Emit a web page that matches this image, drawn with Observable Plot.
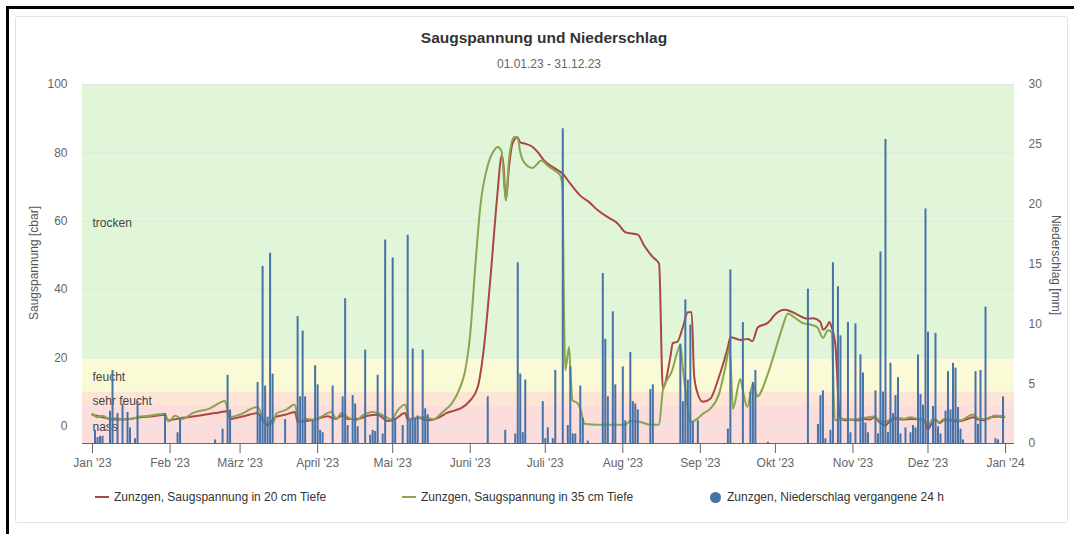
<!DOCTYPE html>
<html><head><meta charset="utf-8">
<script src="https://cdn.jsdelivr.net/npm/d3@7"></script>
<script src="https://cdn.jsdelivr.net/npm/@observablehq/plot@0.6"></script>
<style>
body{margin:0;background:#fff;font-family:"Liberation Sans",Arial,sans-serif;}
#wrap{position:relative;width:1074px;height:534px;overflow:hidden;background:#fff;}
.outer{position:absolute;left:6px;top:6px;width:1080px;height:540px;border-left:3px solid #000;border-top:3px solid #000;}
.card{position:absolute;left:15px;top:16px;width:1051px;height:505px;border:1px solid #e2e2e2;border-radius:3px;}
.title{position:absolute;left:0;width:1088px;top:28px;text-align:center;font-size:15.5px;font-weight:bold;color:#333;line-height:20px;}
.subtitle{position:absolute;left:0;width:1098px;top:57px;text-align:center;font-size:12px;color:#666;line-height:14px;}
#chart{position:absolute;left:0;top:70px;}
.ytitle{position:absolute;font-size:12px;color:#555;white-space:nowrap;line-height:14px;}
.ytitle.l{left:34px;top:263px;transform:translate(-50%,-50%) rotate(-90deg);}
.ytitle.r{left:1056px;top:265px;transform:translate(-50%,-50%) rotate(90deg);}
.leg{position:absolute;top:490px;font-size:12px;color:#333;line-height:14px;white-space:nowrap;}
.sym{position:absolute;}
</style></head><body>
<div id="wrap">
 <div class="outer"></div>
 <div class="card"></div>
 <div class="title">Saugspannung und Niederschlag</div>
 <div class="subtitle">01.01.23 - 31.12.23</div>
 <div id="chart"></div>
 <div class="ytitle l">Saugspannung [cbar]</div>
 <div class="ytitle r">Niederschlag [mm]</div>
 <div id="legend"></div>
</div>
<script>
// ---- data ----
const monthLabels = ["Jan","Feb","März","April","Mai","Juni","Juli","Aug","Sep","Okt","Nov","Dez"];
const leftTicks = [0, 20, 40, 60, 80, 100];
const rightTicks = [0, 5, 10, 15, 20, 25, 30];
const bandLabels = ["trocken", "feucht", "sehr feucht", "nass"];
const bandLow = [20, 10, 6, -5];
const bandHigh = [100, 20, 10, 6];
const bandColors = ["#e1f5d9", "#fafad7", "#fde5d6", "#fddcdc"];
const seriesNames = ["Zunzgen, Saugspannung in 20 cm Tiefe", "Zunzgen, Saugspannung in 35 cm Tiefe", "Zunzgen, Niederschlag vergangene 24 h"];
const seriesColors = ["#AA4643", "#89A54E", "#4572A7"];

const red20 = [
["2023-01-01",3.4],["2023-01-05",2.7],["2023-01-10",2.0],["2023-01-16",2.2],["2023-01-20",2.7],["2023-01-24",2.9],["2023-01-30",3.4],["2023-01-31",1.8],["2023-02-06",2.5],["2023-02-13",3.2],["2023-02-19",3.9],["2023-02-24",4.4],["2023-02-25",2.2],["2023-03-02",2.9],["2023-03-08",3.9],["2023-03-10",1.8],["2023-03-12",0.3],["2023-03-15",2.7],["2023-03-19",3.4],["2023-03-23",4.2],["2023-03-24",1.3],["2023-03-30",1.9],["2023-04-01",2.2],["2023-04-05",3.0],["2023-04-08",2.2],["2023-04-11",3.2],["2023-04-13",2.2],["2023-04-17",2.2],["2023-04-21",3.1],["2023-04-25",3.4],["2023-04-29",1.6],["2023-05-02",2.2],["2023-05-06",3.9],["2023-05-07",2.0],["2023-05-11",2.5],["2023-05-15",1.8],["2023-05-21",3.2],["2023-05-22",3.7],["2023-05-26",4.7],["2023-05-28",5.2],["2023-06-01",7.6],["2023-06-04",11.5],["2023-06-06T12",23.2],["2023-06-09",42.7],["2023-06-12",69],["2023-06-13T12",79.2],["2023-06-14T06",76.8],["2023-06-15T06",66.1],["2023-06-16T12",75.8],["2023-06-17T21",82.7],["2023-06-19T21",84.6],["2023-06-21",83.1],["2023-06-23",82.7],["2023-06-26",81.7],["2023-06-28",80.2],["2023-06-30T12",77.8],["2023-07-04T12",75.6],["2023-07-08",73.9],["2023-07-11",71],["2023-07-15",67.5],["2023-07-18T12",65.6],["2023-07-22",63.2],["2023-07-26",61.2],["2023-07-30",59.3],["2023-08-02",56.8],["2023-08-07",56.1],["2023-08-09T12",52.9],["2023-08-13",49.5],["2023-08-15T12",47.6],["2023-08-17",11.2],["2023-08-20",20.3],["2023-08-21",24.4],["2023-08-22T18",24.7],["2023-08-25",29],["2023-08-27",33.4],["2023-08-28T12",33.4],["2023-08-29T12",15],["2023-08-30T18",10],["2023-09-02",7.2],["2023-09-05",8.1],["2023-09-08",13.5],["2023-09-12",23.2],["2023-09-13",26.1],["2023-09-17",25.3],["2023-09-20",25.6],["2023-09-21T18",24.9],["2023-09-24",29],["2023-09-27T18",30.2],["2023-09-29",31],["2023-09-30",32],["2023-10-04T12",34.1],["2023-10-07",33.7],["2023-10-09T18",32.7],["2023-10-13T18",31.5],["2023-10-16",31.6],["2023-10-19",30.5],["2023-10-20",28.3],["2023-10-21T18",29.5],["2023-10-22T12",30.5],["2023-10-23T12",29],["2023-10-25",23.7],["2023-10-26T18",2.7],["2023-10-28T12",1.8],["2023-10-31",2.0],["2023-11-03",1.8],["2023-11-05T12",2.2],["2023-11-08",2.0],["2023-11-09T12",2.7],["2023-11-11T12",1.3],["2023-11-14",0.3],["2023-11-15T12",1.3],["2023-11-17T12",2.2],["2023-11-21T12",2.0],["2023-11-24",2.2],["2023-11-27",2.1],["2023-11-29T12",1.8],["2023-12-01",-1.0],["2023-12-02",0.3],["2023-12-04",2.0],["2023-12-05T12",1.0],["2023-12-07T12",1.8],["2023-12-11T12",1.6],["2023-12-14",1.6],["2023-12-17",2.2],["2023-12-19",2.7],["2023-12-21",2.0],["2023-12-23T12",1.8],["2023-12-26",2.7],["2023-12-29",2.9],["2023-12-31T12",2.7]
];

const green35 = [
["2023-01-01",3.7],["2023-01-03",2.7],["2023-01-05",3.1],["2023-01-07T18",2.2],["2023-01-10",2.4],["2023-01-13T18",2.0],["2023-01-17",2.2],["2023-01-19T18",2.9],["2023-01-23T18",3.1],["2023-01-27",3.5],["2023-01-29T18",3.7],["2023-01-31T12",1.5],["2023-02-03",3.1],["2023-02-06",2.2],["2023-02-10",3.9],["2023-02-16T18",5.2],["2023-02-23",7.4],["2023-02-24T18",2.7],["2023-02-28T18",3.4],["2023-03-08",5.7],["2023-03-10T18",1.5],["2023-03-14",0.8],["2023-03-15T12",3.7],["2023-03-19T12",4.9],["2023-03-22T18",6.4],["2023-03-24T18",1.3],["2023-03-27T12",2.2],["2023-03-30",2.0],["2023-04-01T18",2.6],["2023-04-06T12",4.2],["2023-04-08T12",2.2],["2023-04-10T12",3.9],["2023-04-13",2.7],["2023-04-16T12",1.8],["2023-04-19",3.2],["2023-04-23",4.2],["2023-04-25T18",3.7],["2023-04-28T12",2.7],["2023-04-30T12",2.0],["2023-05-03",4.7],["2023-05-06",6.4],["2023-05-07T18",1.8],["2023-05-10T12",2.6],["2023-05-14T12",2.7],["2023-05-17",2.0],["2023-05-21",4.2],["2023-05-25",7.1],["2023-05-28",11.5],["2023-05-30",16.4],["2023-06-01",27.1],["2023-06-03",46.6],["2023-06-05",64.1],["2023-06-08",76.3],["2023-06-10T12",80.7],["2023-06-11T21",81.7],["2023-06-13T12",80.5],["2023-06-15T06",66.1],["2023-06-16T12",78],["2023-06-18T12",84.6],["2023-06-19T21",84.6],["2023-06-21",80.2],["2023-06-22T12",77.3],["2023-06-25T21",75.6],["2023-06-29T12",77.8],["2023-07-01T21",76.3],["2023-07-05",74.7],["2023-07-07",73.4],["2023-07-07T21",70],["2023-07-08T12",33],["2023-07-09",16.4],["2023-07-10T12",23.2],["2023-07-11",17.3],["2023-07-11T21",7.6],["2023-07-13T21",6.8],["2023-07-15",5.2],["2023-07-16T18",0.8],["2023-07-21T21",0.5],["2023-07-28T12",0.5],["2023-08-02",0.5],["2023-08-04",1.6],["2023-08-08",1.3],["2023-08-12",0.5],["2023-08-15T12",0.5],["2023-08-17",10.5],["2023-08-20T18",16.4],["2023-08-23",22.2],["2023-08-24",23.7],["2023-08-25",16.9],["2023-08-26T18",6.6],["2023-08-28",1.3],["2023-08-30T18",2.2],["2023-09-02",3.7],["2023-09-05",5.2],["2023-09-08T12",9.6],["2023-09-11",17.3],["2023-09-12T18",23.2],["2023-09-14",5.2],["2023-09-17",13.9],["2023-09-18",10.5],["2023-09-19T18",5.7],["2023-09-22",12.5],["2023-09-23T18",8.8],["2023-09-28",15.4],["2023-10-01T18",24.2],["2023-10-04",29.5],["2023-10-06",33],["2023-10-08",32.2],["2023-10-12",30.2],["2023-10-15",29.8],["2023-10-17T18",29],["2023-10-20",25.9],["2023-10-22",28.1],["2023-10-23T12",27.5],["2023-10-24T18",1.8],["2023-10-28T12",2.2],["2023-10-31",2.0],["2023-11-03",2.2],["2023-11-05T12",2.5],["2023-11-09T12",2.9],["2023-11-11T12",1.8],["2023-11-14",1.3],["2023-11-17T12",2.7],["2023-11-21T12",2.2],["2023-11-24",2.7],["2023-11-27",2.2],["2023-11-29T12",2.0],["2023-12-01",0.3],["2023-12-03",2.2],["2023-12-05T12",1.3],["2023-12-07T12",2.2],["2023-12-14",1.8],["2023-12-19",3.5],["2023-12-21T12",2.2],["2023-12-25",2.2],["2023-12-27T12",3.2],["2023-12-31T12",2.9]
];

const precip = [
["2023-01-02",1.1],["2023-01-03",0.5],["2023-01-04",0.6],["2023-01-05",0.6],["2023-01-08",2.7],["2023-01-09",6.1],["2023-01-11",2.5],["2023-01-13",3.3],["2023-01-15",2.6],["2023-01-16",1.3],["2023-01-18",0.4],["2023-01-19",3.5],["2023-01-30",2.5],["2023-02-04",0.9],["2023-02-05",2.1],["2023-02-19",0.3],["2023-02-22",1.2],["2023-02-24",5.7],["2023-02-25",2.8],
["2023-03-08",5.1],["2023-03-09",2.3],["2023-03-10",14.8],["2023-03-11",4.8],["2023-03-12",2.2],["2023-03-13",15.9],["2023-03-14",5.8],["2023-03-19",2.0],["2023-03-24",10.6],["2023-03-25",3.9],["2023-03-26",9.4],["2023-03-27",3.9],["2023-03-30",1.9],["2023-03-31",6.5],
["2023-04-01",4.9],["2023-04-02",1.1],["2023-04-03",0.9],["2023-04-07",4.8],["2023-04-11",3.9],["2023-04-12",12.1],["2023-04-13",1.5],["2023-04-15",4.0],["2023-04-16",3.3],["2023-04-17",1.4],["2023-04-20",7.8],["2023-04-22",0.7],["2023-04-23",1.1],["2023-04-24",1.0],["2023-04-25",5.7],["2023-04-27",0.8],["2023-04-28",17.0],
["2023-05-01",15.5],["2023-05-02",2.1],["2023-05-05",1.5],["2023-05-07",17.4],["2023-05-08",1.9],["2023-05-09",7.9],["2023-05-10",2.1],["2023-05-11",2.3],["2023-05-13",7.8],["2023-05-14",2.9],["2023-05-15",2.4],
["2023-06-08",3.9],["2023-06-15",1.1],["2023-06-19",0.8],["2023-06-20",15.1],["2023-06-21",5.8],["2023-06-22",0.9],["2023-06-23",5.3],["2023-06-30",3.5],
["2023-07-01",0.4],["2023-07-02",1.3],["2023-07-04",0.4],["2023-07-05",6.1],["2023-07-08",26.3],["2023-07-10",1.5],["2023-07-11",6.4],["2023-07-12",0.8],["2023-07-13",0.8],["2023-07-15",4.8],["2023-07-16",2.1],["2023-07-18",0.2],["2023-07-24",14.2],["2023-07-25",8.7],["2023-07-26",3.9],["2023-07-28",11.0],["2023-07-29",4.9],
["2023-08-01",6.4],["2023-08-02",1.9],["2023-08-04",7.6],["2023-08-05",3.5],["2023-08-06",3.3],["2023-08-07",2.8],["2023-08-12",4.5],["2023-08-13",4.9],["2023-08-24",8.3],["2023-08-25",3.5],["2023-08-26",12.0],["2023-08-27",5.3],["2023-08-28",9.9],["2023-08-29",1.8],["2023-08-31",1.9],
["2023-09-12",1.2],["2023-09-13",14.5],["2023-09-18",10.1],["2023-09-21",4.3],["2023-09-22",5.1],["2023-09-23",6.1],["2023-09-28",0.1],
["2023-10-14",12.9],["2023-10-18",1.6],["2023-10-19",4.0],["2023-10-20",4.4],["2023-10-21",0.4],["2023-10-23",1.1],["2023-10-24",15.1],["2023-10-26",13.1],["2023-10-27",9.0],["2023-10-30",10.1],["2023-10-31",0.9],
["2023-11-02",10.0],["2023-11-04",7.4],["2023-11-05",5.9],["2023-11-06",1.7],["2023-11-07",0.9],["2023-11-10",4.4],["2023-11-11",0.8],["2023-11-12",16.0],["2023-11-13",4.3],["2023-11-14",25.4],["2023-11-15",0.9],["2023-11-16",6.7],["2023-11-17",2.5],["2023-11-18",4.0],["2023-11-19",5.5],["2023-11-20",0.8],["2023-11-22",1.3],["2023-11-24",0.9],["2023-11-25",1.5],["2023-11-26",1.3],["2023-11-27",7.4],["2023-11-28",4.1],["2023-11-29",3.2],["2023-11-30",19.6],
["2023-12-01",9.3],["2023-12-03",3.1],["2023-12-04",9.2],["2023-12-05",1.4],["2023-12-06",0.8],["2023-12-08",2.7],["2023-12-09",6.0],["2023-12-10",2.8],["2023-12-11",6.7],["2023-12-12",6.3],["2023-12-13",3.0],["2023-12-14",1.2],["2023-12-15",0.3],["2023-12-20",6.0],["2023-12-21",1.6],["2023-12-22",6.1],["2023-12-24",11.4],["2023-12-28",0.4],["2023-12-29",0.3],["2023-12-31",3.9]
];

// ---- helpers ----
const parse = s => new Date(s.length === 10 ? s + "T00:00:00Z" : s + ":00:00Z");
const yMin = -5, yMax = 100, rMax = 30;
const toLeft = mm => yMin + mm * (yMax - yMin) / rMax;
const toMm = v => Math.round((v - yMin) * rMax / (yMax - yMin));

const redData = red20.map(([d, v]) => ({date: parse(d), v}));
const greenData = green35.map(([d, v]) => ({date: parse(d), v}));
const rainData = precip.map(([d, mm]) => ({date: parse(d), mm}));
const bands = bandLabels.map((label, i) => ({label, lo: bandLow[i], hi: bandHigh[i], fill: bandColors[i], mid: (bandLow[i] + bandHigh[i]) / 2}));
const monthTicks = d3.utcMonths(new Date(Date.UTC(2023, 0, 1)), new Date(Date.UTC(2024, 0, 2)));
const fmtMonth = d => monthLabels[d.getUTCMonth()] + " '" + String(d.getUTCFullYear()).slice(2);

const chart = Plot.plot({
  width: 1074,
  height: 410,
  marginTop: 14,
  marginBottom: 37,
  marginLeft: 82,
  marginRight: 60,
  style: {fontFamily: "'Liberation Sans', Arial, sans-serif", fontSize: "12px", color: "#666", background: "transparent"},
  x: {type: "utc", domain: [new Date(Date.UTC(2022, 11, 28)), new Date(Date.UTC(2024, 0, 4, 14))]},
  y: {domain: [yMin, yMax]},
  marks: [
    Plot.rect(bands, {y1: "lo", y2: "hi", fill: "fill"}),
    Plot.gridY(leftTicks, {stroke: "#e3e3e3", strokeOpacity: 1}),
    Plot.text(bands, {y: "mid", text: "label", frameAnchor: "left", dx: 10, dy: 2, textAnchor: "start", fill: "#444", fontSize: 12}),
    Plot.line(redData, {x: "date", y: "v", stroke: seriesColors[0], strokeWidth: 2, curve: "monotone-x"}),
    Plot.line(greenData, {x: "date", y: "v", stroke: seriesColors[1], strokeWidth: 2, curve: "monotone-x"}),
    Plot.ruleX(rainData, {x: "date", y1: yMin, y2: d => toLeft(d.mm), stroke: seriesColors[2], strokeWidth: 2}),
    Plot.ruleY([yMin], {stroke: "#666"}),
    Plot.axisY(leftTicks, {anchor: "left", tickSize: 0, tickPadding: 15, label: null}),
    Plot.axisY(rightTicks.map(toLeft), {anchor: "right", tickSize: 0, tickPadding: 14, label: null, tickFormat: toMm}),
    Plot.axisX(monthTicks, {anchor: "bottom", tickSize: 10, tickPadding: 5, label: null, tickFormat: fmtMonth, stroke: "#666"})
  ]
});
document.getElementById("chart").appendChild(chart);

// ---- legend ----
const legend = document.getElementById("legend");
const legPos = [{sym: 95, text: 114}, {sym: 402, text: 421}, {sym: 710, text: 727}];
seriesNames.forEach((name, i) => {
  const s = document.createElement("div");
  s.className = "sym";
  if (i < 2) {
    Object.assign(s.style, {left: legPos[i].sym + "px", top: "496px", width: "14px", height: "2px", background: seriesColors[i]});
  } else {
    Object.assign(s.style, {left: legPos[i].sym + "px", top: "492px", width: "11px", height: "11px", borderRadius: "50%", background: seriesColors[i]});
  }
  legend.appendChild(s);
  const t = document.createElement("div");
  t.className = "leg";
  t.style.left = legPos[i].text + "px";
  t.textContent = name;
  legend.appendChild(t);
});
</script>
</body></html>
